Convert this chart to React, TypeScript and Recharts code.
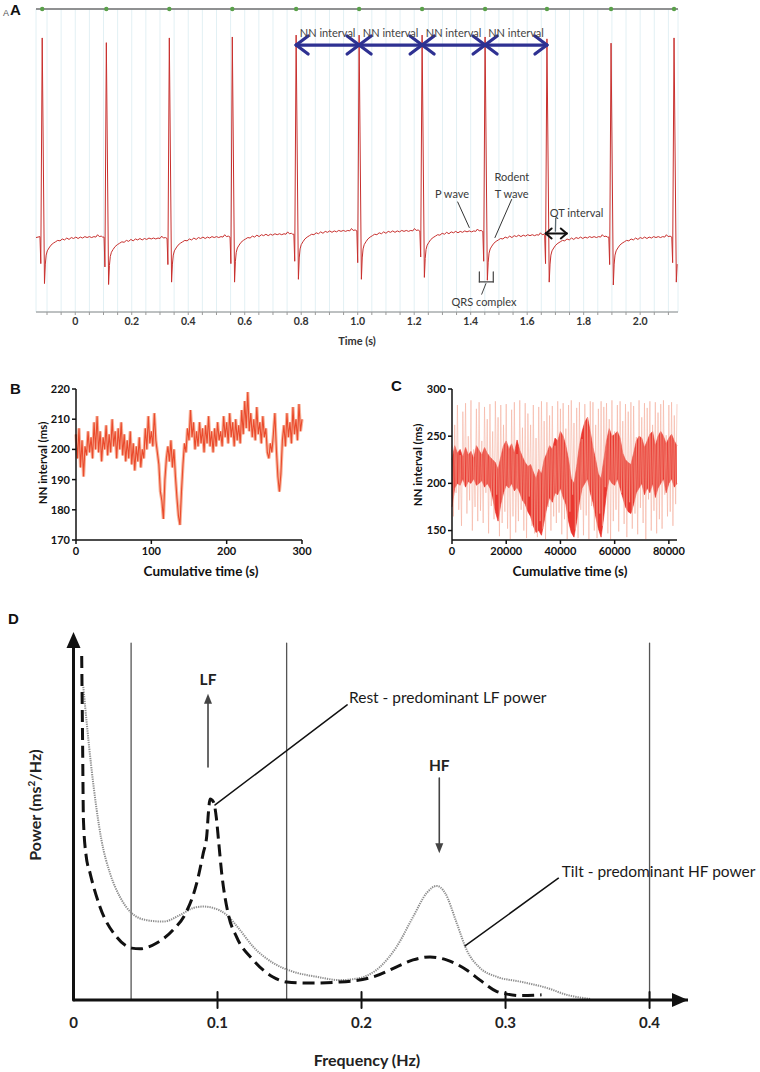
import React from "react";
import {
  ComposedChart,
  LineChart,
  Line,
  Area,
  XAxis,
  YAxis,
  CartesianGrid,
  ReferenceLine,
  ReferenceDot,
} from "recharts";

const FONT = "Lato, 'Open Sans', sans-serif";
const LETTER_FONT = "'Liberation Sans', Arial, sans-serif";

// ---------- A: ECG trace (time in s, amplitude in grid units) ----------
const beatTimes = [-0.117, 0.11, 0.333, 0.556, 0.782, 1.005, 1.228, 1.451, 1.67, 1.897, 2.12];
const rPeaks = [4.16, 4.06, 4.16, 4.18, 4.22, 4.22, 4.22, 4.18, 4.14, 4.05, 4.16];
const sDips = [-1.02, -1.04, -0.99, -0.99, -0.93, -0.93, -0.89, -0.95, -0.99, -1.05, -0.99];
const qDips = [-0.6, -0.67, -0.62, -0.6, -0.55, -0.58, -0.46, -0.55, -0.6, -0.62, -0.58];
const plateau = [-0.06, -0.09, -0.06, 0.0, 0.07, 0.07, 0.06, -0.02, -0.06, -0.06, -0.06];
const preLevel = -0.05;
// recovery after the S wave: [offset from R (s), level relative to plateau]
const recovery = [
  [0.011, -0.55], [0.014, -0.36], [0.018, -0.27], [0.024, -0.21], [0.031, -0.15],
  [0.039, -0.11], [0.047, -0.08], [0.055, -0.05], [0.063, -0.06], [0.071, -0.02],
  [0.079, -0.04], [0.087, 0.0], [0.095, -0.03], [0.103, 0.01], [0.111, -0.01],
  [0.119, 0.02], [0.127, -0.01], [0.135, 0.02], [0.143, 0.0], [0.151, 0.03],
  [0.159, 0.01], [0.167, 0.03], [0.175, 0.01], [0.183, 0.03], [0.19, 0.02],
  [0.196, 0.07], [0.202, 0.03], [0.209, 0.04], [0.214, 0.02],
];
const aDomain = [-0.139, 2.134];
const aLabelTicks = [0, 0.2, 0.4, 0.6, 0.8, 1.0, 1.2, 1.4, 1.6, 1.8, 2.0];
const aGridTicks = Array.from({ length: 45 }, (_, i) => +(-0.1 + i * 0.05).toFixed(2));

const ecg: { t: number; v: number }[] = [{ t: aDomain[0], v: preLevel }];
beatTimes.forEach((bt, i) => {
  const before = i === 0 ? preLevel : plateau[i - 1];
  const next = i + 1 < beatTimes.length ? beatTimes[i + 1] : aDomain[1] + 0.009;
  ecg.push(
    { t: bt - 0.008, v: before + 0.02 },
    { t: bt - 0.005, v: qDips[i] },
    { t: bt, v: rPeaks[i] },
    { t: bt + 0.008, v: sDips[i] }
  );
  recovery.forEach(([dt, dv]) => {
    if (bt + dt < next - 0.009) ecg.push({ t: +(bt + dt).toFixed(4), v: plateau[i] + dv });
  });
});

// ---------- B: NN intervals over 300 s (every 2 s) ----------
const bStep = 2;
const bNN = [
  205, 197, 207, 194, 203, 191, 201, 198, 206, 199,
  204, 197, 209, 200, 211, 199, 206, 196, 204, 200,
  208, 198, 205, 199, 210, 201, 206, 197, 207, 200,
  209, 198, 205, 196, 203, 197, 206, 195, 202, 193,
  201, 196, 204, 194, 200, 197, 207, 200, 211, 202,
  206, 201, 212, 203, 199, 195, 186, 183, 177, 190,
  197, 201, 196, 203, 194, 200, 191, 184, 178, 175,
  186, 195, 202, 199, 207, 203, 213, 204, 209, 200,
  206, 201, 209, 202, 207, 199, 208, 202, 211, 201,
  206, 199, 207, 201, 209, 203, 206, 201, 211, 204,
  209, 202, 212, 204, 209, 201, 210, 203, 208, 202,
  213, 205, 216, 207, 219, 206, 212, 204, 210, 203,
  214, 205, 209, 202, 211, 204, 207, 199, 197, 202,
  199, 205, 212, 200, 191, 186, 192, 203, 208, 201,
  212, 204, 209, 202, 214, 205, 210, 203, 215, 206,
  210,
];
const bRows = bNN.map((nn, i) => ({ t: i * bStep, nn }));

// ---------- C: NN intervals over ~24 h ----------
const cStep = 1000;
const cCoreLo = [
  175, 195, 200, 198, 205, 196, 202, 200, 205, 198,
  200, 203, 196, 200, 195, 185, 170, 160, 178, 190,
  198, 195, 200, 192, 196, 190, 182, 178, 170, 165,
  155, 148, 150, 145, 160, 175, 185, 180, 190, 188,
  195, 185, 178, 160, 148, 143, 160, 180, 195, 200,
  205, 190, 180, 165, 152, 143, 165, 190, 205, 200,
  198, 205, 195, 185, 175, 170, 168, 178, 190, 195,
  200, 188, 195, 190, 200, 185, 195, 200, 205, 190,
  200, 205, 196, 200,
];
const cCoreHi = [
  225, 240, 232, 236, 228, 238, 230, 234, 226, 240,
  235, 230, 238, 232, 228, 225, 222, 215, 228, 240,
  245, 236, 242, 232, 246, 235, 228, 222, 218, 220,
  212, 205, 215, 210, 225, 232, 240, 236, 248, 245,
  255, 250, 240, 225, 205, 200, 218, 240, 255, 265,
  270, 255, 238, 225, 210, 205, 225, 245, 258, 250,
  252, 255, 248, 232, 225, 222, 220, 232, 245, 250,
  248, 238, 245, 252, 255, 240, 250, 255, 250, 242,
  248, 252, 245, 240,
];
// light outlier spikes, every 500 s
const cSpikeStep = 500;
const cSpike = [
  240, 165, 262, 190, 283, 172, 230, 155, 276, 198,
  285, 168, 250, 182, 288, 150, 236, 175, 279, 160,
  286, 171, 245, 158, 281, 190, 268, 147, 284, 176,
  255, 162, 287, 188, 270, 144, 283, 158, 262, 170,
  284, 152, 240, 141, 278, 165, 286, 148, 231, 160,
  288, 172, 259, 150, 285, 142, 274, 186, 262, 155,
  283, 147, 248, 143, 281, 160, 287, 152, 266, 141,
  286, 175, 272, 150, 282, 165, 240, 158, 287, 169,
  279, 146, 285, 162, 258, 141, 283, 170, 288, 188,
  264, 151, 280, 142, 286, 172, 247, 145, 284, 166,
  270, 141, 287, 176, 286, 150, 262, 142, 279, 168,
  287, 155, 281, 196, 285, 147, 268, 141, 288, 160,
  255, 172, 283, 149, 287, 190, 266, 157, 284, 143,
  276, 180, 286, 152, 282, 168, 249, 146, 288, 174,
  270, 158, 285, 141, 280, 183, 287, 150, 262, 171,
  286, 147, 275, 162, 284, 152, 288, 188, 251, 165,
  283, 170, 286, 155, 272, 178, 284,
];
const cRows = cCoreLo.map((lo, i) => ({ t: i * cStep, core: [lo, cCoreHi[i]] }));
const cSpikeRows = cSpike.map((v, i) => ({ t: i * cSpikeStep, spike: v }));

// ---------- D: power spectra ----------
const restFreq = [
  0.0057, 0.0063, 0.0069, 0.0087, 0.0115, 0.0184, 0.03, 0.0404, 0.0462, 0.0578,
  0.0691, 0.0783, 0.0856, 0.0901, 0.0925, 0.0937, 0.0948, 0.0972, 0.0992, 0.1008,
  0.1029, 0.1073, 0.1133, 0.1247, 0.1385, 0.148, 0.162, 0.185, 0.208, 0.2244,
  0.2358, 0.2476, 0.259, 0.273, 0.2823, 0.294, 0.301, 0.31, 0.325,
];
const restPower = [
  9.35, 7.07, 4.89, 3.94, 3.45, 2.53, 1.71, 1.41, 1.39, 1.55,
  1.9, 2.39, 3.18, 3.99, 4.45, 5.1, 5.46, 5.38, 4.95, 4.3,
  3.45, 2.36, 1.71, 1.09, 0.625, 0.49, 0.46, 0.49, 0.625, 0.9,
  1.09, 1.17, 1.09, 0.815, 0.54, 0.23, 0.16, 0.12, 0.14,
];
const tiltFreq = [
  0.0068, 0.0122, 0.0194, 0.0253, 0.0323, 0.0404, 0.0508, 0.0624, 0.074, 0.0832,
  0.0901, 0.0971, 0.1064, 0.1156, 0.1247, 0.1385, 0.1524, 0.1689, 0.185, 0.199,
  0.2128, 0.2244, 0.2358, 0.2453, 0.2522, 0.258, 0.2661, 0.273, 0.2823, 0.294,
  0.31, 0.3286, 0.3425, 0.3587,
];
const tiltPower = [
  8.51, 6.39, 4.35, 3.45, 2.8, 2.36, 2.17, 2.13, 2.31, 2.5,
  2.54, 2.5, 2.31, 1.9, 1.45, 1.01, 0.77, 0.63, 0.54, 0.6,
  0.9, 1.45, 2.26, 2.91, 3.1, 2.91, 2.09, 1.36, 0.87, 0.63,
  0.5, 0.33, 0.14, 0.03,
];
const restRows = restFreq.map((f, i) => ({ f, p: restPower[i] }));
const tiltRows = tiltFreq.map((f, i) => ({ f, p: tiltPower[i] }));
const dTicks = [0, 0.1, 0.2, 0.3, 0.4];
const bandEdges = [0.04, 0.148, 0.4];

// ---------- helpers ----------
const seg = (key: string, x1: number, y1: number, x2: number, y2: number, stroke: string, w: number) => (
  <ReferenceLine
    key={key}
    segment={[{ x: x1, y: y1 }, { x: x2, y: y2 }]}
    stroke={stroke}
    strokeWidth={w}
    strokeLinecap="round"
    ifOverflow="visible"
  />
);

const doubleArrow = (key: string, x1: number, x2: number, y: number, dx: number, dy: number, stroke: string, w: number) => [
  seg(key + "s", x1, y, x2, y, stroke, w),
  seg(key + "a", x1, y, x1 + dx, y + dy, stroke, w),
  seg(key + "b", x1, y, x1 + dx, y - dy, stroke, w),
  seg(key + "c", x2, y, x2 - dx, y + dy, stroke, w),
  seg(key + "d", x2, y, x2 - dx, y - dy, stroke, w),
];

const note = (key: string, x: number, y: number, text: string, o: any = {}) => (
  <ReferenceDot
    key={key}
    x={x}
    y={y}
    r={0}
    ifOverflow="visible"
    shape={(p: any) => (
      <text
        x={p.cx}
        y={p.cy}
        textAnchor={o.anchor || "middle"}
        dominantBaseline="central"
        fontFamily={FONT}
        fontSize={o.size || 11}
        fontWeight={o.weight || 400}
        fill={o.fill || "#3a3a3a"}
      >
        {text}
      </text>
    )}
  />
);

const tri = (key: string, x: number, y: number, dir: string, len: number, half: number, fill: string) => (
  <ReferenceDot
    key={key}
    x={x}
    y={y}
    r={0}
    ifOverflow="visible"
    shape={(p: any) => {
      const { cx, cy } = p;
      let d = "";
      if (dir === "up") d = `M${cx},${cy} L${cx - half},${cy + len} L${cx + half},${cy + len} Z`;
      if (dir === "down") d = `M${cx},${cy} L${cx - half},${cy - len} L${cx + half},${cy - len} Z`;
      if (dir === "right") d = `M${cx},${cy} L${cx - len},${cy - half} L${cx - len},${cy + half} Z`;
      return <path d={d} fill={fill} stroke="none" />;
    }}
  />
);

const fmtA = (v: number) => {
  if (!aLabelTicks.some((l) => Math.abs(l - v) < 1e-6)) return "";
  return v === 0 ? "0" : v.toFixed(1);
};

const bcTick = { fill: "#111", fontSize: 11, fontWeight: 700, fontFamily: FONT };
const bcAxis = { stroke: "#111", strokeWidth: 1.5 };

const abs = (left: number, top: number): React.CSSProperties => ({ position: "absolute", left, top });

const Title = ({ x, y, text, size, rotate, weight = 700, color = "#111" }: any) => (
  <div
    style={{
      position: "absolute",
      left: x,
      top: y,
      transform: `translate(-50%, -50%)${rotate ? " rotate(-90deg)" : ""}`,
      fontFamily: FONT,
      fontSize: size,
      fontWeight: weight,
      color,
      whiteSpace: "nowrap",
      lineHeight: 1,
    }}
  >
    {text}
  </div>
);

const Letter = ({ x, y, text, size = 15, color = "#111", weight = 700 }: any) => (
  <div style={{ ...abs(x, y), fontFamily: LETTER_FONT, fontSize: size, fontWeight: weight, color, lineHeight: 1 }}>{text}</div>
);

export default function App() {
  return (
    <div style={{ position: "absolute", left: 0, top: 0, width: 760, height: 1072, background: "#fff", overflow: "hidden" }}>
      {/* ---------------- A ---------------- */}
      <div style={abs(0, 0)}>
        <LineChart width={760} height={360} data={ecg} margin={{ top: 9, right: 82, bottom: 18, left: 36 }}>
          <CartesianGrid stroke="#e2f0f4" strokeWidth={1} />
          <XAxis
            dataKey="t"
            type="number"
            domain={aDomain}
            allowDataOverflow
            ticks={aGridTicks}
            interval={0}
            tickFormatter={fmtA}
            height={30}
            axisLine={{ stroke: "#8a8a8a", strokeWidth: 1.2 }}
            tickLine={{ stroke: "#9a9a9a" }}
            tickSize={3}
            tickMargin={3}
            tick={{ fill: "#333", fontSize: 10.5, fontWeight: 700, fontFamily: FONT }}
          />
          <YAxis
            type="number"
            domain={[-1.62, 4.77]}
            allowDataOverflow
            ticks={[-1, 0, 1, 2, 3, 4]}
            width={0}
            tick={false}
            tickLine={false}
            axisLine={{ stroke: "#7a7a7a", strokeWidth: 1.5 }}
          />
          <ReferenceLine y={4.77} stroke="#6f6f6f" strokeWidth={1.6} />
          <Line dataKey="v" type="linear" stroke="#c8302e" strokeWidth={1} dot={false} isAnimationActive={false} />
          {beatTimes.map((bt, i) => (
            <ReferenceDot key={"g" + i} x={bt} y={4.77} r={2.2} fill="#5aa04a" stroke="none" />
          ))}
          {[4, 5, 6, 7].map((i) => doubleArrow("nn" + i, beatTimes[i], beatTimes[i + 1], 4.01, 0.0425, 0.19, "#2e3192", 3.2))}
          {[4, 5, 6, 7].map((i) => note("nnt" + i, (beatTimes[i] + beatTimes[i + 1]) / 2, 4.27, "NN interval", { size: 11, fill: "#444" }))}
          {seg("pl", 1.354, 0.7, 1.395, 0.162, "#333", 1)}
          {note("pt", 1.334, 0.886, "P wave")}
          {seg("tl", 1.545, 0.753, 1.486, -0.049, "#333", 1)}
          {note("rt", 1.546, 1.23, "Rodent")}
          {note("tt", 1.545, 0.88, "T wave")}
          {seg("qtc", 1.701, 0.359, 1.7, 0.084, "#5b6b73", 1.3)}
          {doubleArrow("qt", 1.6656, 1.74, 0.036, 0.021, 0.105, "#111", 2)}
          {note("qtt", 1.775, 0.485, "QT interval")}
          {seg("q1", 1.4307, -0.774, 1.4307, -0.985, "#444", 1.2)}
          {seg("q2", 1.4307, -0.985, 1.48, -0.985, "#444", 1.2)}
          {seg("q3", 1.48, -0.985, 1.48, -0.774, "#444", 1.2)}
          {seg("q4", 1.454, -1.02, 1.439, -1.245, "#444", 1)}
          {note("qrs", 1.447, -1.407, "QRS complex")}
        </LineChart>
      </div>
      <Letter x={3} y={9} text="A" size={9} weight={400} color="#555" />
      <Letter x={10} y={2} text="A" size={15} />
      <Title x={357} y={340} text="Time (s)" size={11} color="#333" />

      {/* ---------------- B ---------------- */}
      <div style={abs(0, 370)}>
        <LineChart width={330} height={220} data={bRows} margin={{ top: 19, right: 28, bottom: 20, left: 36 }}>
          <XAxis
            dataKey="t"
            type="number"
            domain={[0, 300]}
            ticks={[0, 100, 200, 300]}
            height={30}
            axisLine={bcAxis}
            tickLine={bcAxis}
            tickSize={4}
            tickMargin={3}
            tick={bcTick}
          />
          <YAxis
            type="number"
            domain={[170, 220]}
            ticks={[170, 180, 190, 200, 210, 220]}
            width={40}
            axisLine={bcAxis}
            tickLine={bcAxis}
            tickSize={4}
            tickMargin={2}
            tick={bcTick}
          />
          <Line dataKey="nn" type="linear" stroke="#f7b29a" strokeWidth={3.2} dot={false} isAnimationActive={false} />
          <Line dataKey="nn" type="linear" stroke="#ea4a2c" strokeWidth={1.1} dot={false} isAnimationActive={false} />
        </LineChart>
      </div>
      <Letter x={10} y={381} text="B" />
      <Title x={43} y={463} text="NN interval (ms)" size={11.5} rotate />
      <Title x={201} y={572} text="Cumulative time (s)" size={13.5} />

      {/* ---------------- C ---------------- */}
      <div style={abs(360, 370)}>
        <ComposedChart width={330} height={220} data={cRows} margin={{ top: 19, right: 13, bottom: 20, left: 52 }}>
          <XAxis
            dataKey="t"
            type="number"
            domain={[0, 83000]}
            ticks={[0, 20000, 40000, 60000, 80000]}
            height={30}
            axisLine={bcAxis}
            tickLine={bcAxis}
            tickSize={4}
            tickMargin={3}
            tick={bcTick}
          />
          <YAxis
            type="number"
            domain={[140, 300]}
            allowDataOverflow
            ticks={[150, 200, 250, 300]}
            width={40}
            axisLine={bcAxis}
            tickLine={bcAxis}
            tickSize={4}
            tickMargin={2}
            tick={bcTick}
          />
          <Line
            data={cSpikeRows}
            dataKey="spike"
            type="linear"
            stroke="#f4ab98"
            strokeWidth={0.55}
            dot={false}
            isAnimationActive={false}
          />
          <Area
            dataKey="core"
            type="linear"
            stroke="#e8261e"
            strokeWidth={0.6}
            fill="#e8261e"
            fillOpacity={0.92}
            dot={false}
            isAnimationActive={false}
          />
        </ComposedChart>
      </div>
      <Letter x={391} y={378} text="C" />
      <Title x={418} y={465} text="NN interval (ms)" size={11.5} rotate />
      <Title x={570} y={572} text="Cumulative time (s)" size={13.5} />

      {/* ---------------- D ---------------- */}
      <div style={abs(0, 600)}>
        <ComposedChart width={760} height={472} margin={{ top: 32, right: 72, bottom: 42, left: 73.5 }} style={{ overflow: "visible" }}>
          <XAxis
            dataKey="f"
            type="number"
            domain={[0, 0.4267]}
            ticks={dTicks}
            tickFormatter={(v: number) => (v === 0 ? "0" : String(v))}
            height={30}
            axisLine={{ stroke: "#111", strokeWidth: 3 }}
            tickLine={false}
            tickSize={6}
            tickMargin={11}
            tick={{ fill: "#222", fontSize: 15, fontWeight: 700, fontFamily: FONT }}
          />
          <YAxis type="number" domain={[0, 10]} hide />
          {bandEdges.map((f) => seg("band" + f, f, 0, f, 9.7, "#555", 1.3))}
          {dTicks.slice(1).map((f) => seg("tk" + f, f, -0.22, f, 0.22, "#111", 2))}
          {seg("yaxis", 0, 0, 0, 9.6, "#111", 3)}
          {tri("yarrow", 0, 10, "up", 16, 7, "#111")}
          {tri("xarrow", 0.4267, 0, "right", 16, 7, "#111")}
          <Line
            data={tiltRows}
            dataKey="p"
            type="monotone"
            stroke="#8e8e8e"
            strokeWidth={2}
            strokeDasharray="1.3 1"
            dot={false}
            isAnimationActive={false}
          />
          <Line
            data={restRows}
            dataKey="p"
            type="monotone"
            stroke="#111"
            strokeWidth={3}
            strokeDasharray="12 6"
            dot={false}
            isAnimationActive={false}
          />
          {seg("lfs", 0.0934, 6.33, 0.0934, 8.1, "#444", 1.6)}
          {tri("lfh", 0.0934, 8.32, "up", 10, 4, "#444")}
          {note("lft", 0.0934, 8.72, "LF", { size: 15.5, weight: 700, fill: "#222" })}
          {seg("rl", 0.0983, 5.3, 0.19, 8.02, "#111", 1.5)}
          {note("rt", 0.1913, 8.23, "Rest - predominant LF power", { size: 15.5, anchor: "start", fill: "#1a1a1a" })}
          {seg("hfs", 0.254, 6.03, 0.254, 4.22, "#444", 1.6)}
          {tri("hfh", 0.254, 3.99, "down", 10, 4, "#444")}
          {note("hft", 0.254, 6.39, "HF", { size: 15.5, weight: 700, fill: "#222" })}
          {seg("tl", 0.2719, 1.47, 0.3367, 3.31, "#111", 1.5)}
          {note("tit", 0.339, 3.51, "Tilt - predominant HF power", { size: 15.5, anchor: "start", fill: "#1a1a1a" })}
        </ComposedChart>
      </div>
      <Letter x={8} y={611} text="D" />
      <Title
        x={35}
        y={805}
        size={16}
        rotate
        color="#222"
        text={
          <span>
            Power (ms<sup style={{ fontSize: 10 }}>2</sup>/Hz)
          </span>
        }
      />
      <Title x={367} y={1060} text="Frequency (Hz)" size={16} color="#222" />
    </div>
  );
}
